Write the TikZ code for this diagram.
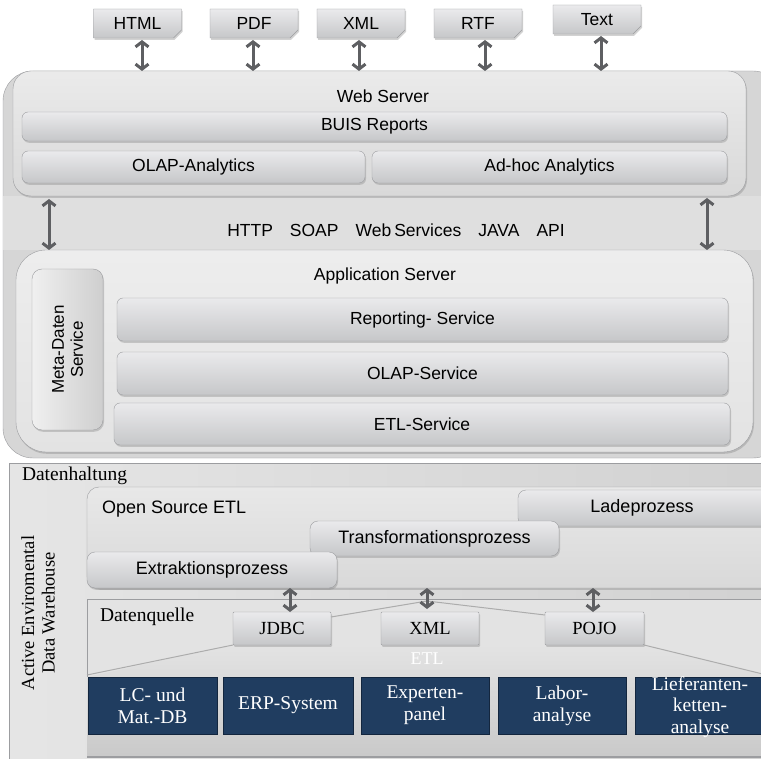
\documentclass[tikz,border=0pt]{standalone}
\usepackage{fontspec}
\setmainfont{Liberation Serif}
\setsansfont{Liberation Sans}
\usetikzlibrary{arrows.meta,shapes.misc,shadows}
\definecolor{edge}{HTML}{9C9DA0}
\definecolor{gtop}{HTML}{EAEAEC}
\definecolor{gbot}{HTML}{C6C7C9}
\definecolor{arrowc}{HTML}{5E5F62}
\definecolor{navy}{HTML}{203D60}
\definecolor{navyedge}{HTML}{13263E}
\tikzset{
  sans/.style={font=\sffamily\fontsize{17.5}{20}\selectfont},
  serif/.style={font=\rmfamily\fontsize{18.5}{20}\selectfont},
  shad/.style={drop shadow={shadow xshift=1pt,shadow yshift=-1.8pt,opacity=0.35}},
  greybox/.style={draw=edge, rounded corners=6pt, top color=gtop, bottom color=gbot,
    inner sep=0pt, outer sep=0pt, shad, text=black},
  fmtbox/.style={chamfered rectangle, chamfered rectangle corners=south east,
    chamfered rectangle xsep=4pt, chamfered rectangle ysep=4pt,
    draw=edge, top color=gtop, bottom color=gbot, inner sep=0pt, outer sep=0pt,
    minimum width=88pt, minimum height=29pt, shad, sans},
  panel/.style={draw=edge, inner sep=0pt, outer sep=0pt},
  navybox/.style={draw=navyedge, fill=navy, text=white, inner sep=0pt, outer sep=0pt,
    minimum height=57pt, align=center, font=\rmfamily\fontsize{19.5}{22}\selectfont},
  dbl/.style={draw=arrowc, line width=3pt,
    {Straight Barb[length=5pt,width=13pt]}-{Straight Barb[length=5pt,width=13pt]}},
  lbl/.style={inner sep=0pt, outer sep=0pt}
}
\begin{document}
\begin{tikzpicture}[x=1pt,y=-1pt]
\useasboundingbox (0,0) rectangle (761,759);
\clip (0,0) rectangle (761,759);
\fill[white] (0,0) rectangle (761,759);

% ---------- upper part ----------
\node[panel, rounded corners=30pt, fill=gray!32, minimum width=780pt, minimum height=387pt,
  anchor=north west] (outer) at (3,71) {};
\fill[gray!25] (3,196) rectangle (761,250);
\node[greybox, rounded corners=18pt, top color=gray!16, bottom color=gray!30,
  minimum width=733pt, minimum height=125pt, anchor=north west] (ws) at (13,71) {};
\node[lbl, sans] (wst) at (383,96) {Web Server};
\node[greybox, minimum width=705pt, minimum height=29pt] (buis) at (374.5,126.5) {\sffamily\fontsize{17.5}{20}\selectfont BUIS Reports};
\node[greybox, minimum width=343pt, minimum height=32pt] (olapa) at (193.5,167) {\sffamily\fontsize{17.5}{20}\selectfont OLAP-Analytics};
\node[greybox, minimum width=355pt, minimum height=32pt] (adhoc) at (549.5,167) {\sffamily\fontsize{17.5}{20}\selectfont Ad-hoc Analytics};

% format boxes
\node[fmtbox] (html) at (137.5,23.5) {HTML};
\node[fmtbox] (pdf) at (254,23.5) {PDF};
\node[fmtbox] (xml) at (361,23.5) {XML};
\node[fmtbox] (rtf) at (478,23.5) {RTF};
\node[fmtbox] (txt) at (597,19.5) {Text};
\draw[dbl] ([xshift=4.5pt,yshift=-2pt]html.south) -- ([xshift=4.5pt]html.south |- ws.north);
\draw[dbl] ([xshift=-1pt,yshift=-2pt]pdf.south) -- ([xshift=-1pt]pdf.south |- ws.north);
\draw[dbl] ([xshift=-2pt,yshift=-2pt]xml.south) -- ([xshift=-2pt]xml.south |- ws.north);
\draw[dbl] ([xshift=7pt,yshift=-2pt]rtf.south) -- ([xshift=7pt]rtf.south |- ws.north);
\draw[dbl] ([xshift=4pt,yshift=-2pt]txt.south) -- ([xshift=4pt]txt.south |- ws.north);

% protocols
\node[lbl, sans] (proto) at (396,230) {HTTP\hspace{17pt}SOAP\hspace{17pt}Web\hspace{3pt}Services\hspace{17pt}JAVA\hspace{17pt}API};

% application server
\node[greybox, rounded corners=30pt, top color=gray!14, bottom color=gray!22,
  minimum width=737pt, minimum height=202pt, anchor=north west] (app) at (16,250) {};
\draw[dbl] (49,199) -- (49,0 |- app.north);
\draw[dbl] (707,198) -- (707,0 |- app.north);
\node[lbl, sans] (appt) at (385,276) {Application Server};
\node[greybox, rounded corners=10pt, shading angle=90,
  left color=gray!12, right color=gray!38,
  minimum width=71pt, minimum height=161pt] (meta) at (67.5,349.5) {};
\node[lbl, rotate=90, align=center, font=\sffamily\fontsize{17}{19}\selectfont] (metat) at (meta.center) {Meta-Daten\\Service};
\node[greybox, minimum width=611pt, minimum height=43pt] (rep) at (422.5,319.5) {\sffamily\fontsize{17.5}{20}\selectfont Reporting- Service};
\node[greybox, minimum width=611pt, minimum height=43pt] (olaps) at (422.5,373.5) {\sffamily\fontsize{17.5}{20}\selectfont OLAP-Service};
\node[greybox, minimum width=616pt, minimum height=42pt] (etls) at (422,424) {\sffamily\fontsize{17.5}{20}\selectfont ETL-Service};

% ---------- lower part ----------
\node[panel, left color=gray!20, right color=gray!36, minimum width=770pt, minimum height=310pt,
  anchor=north west] (dh) at (9,463) {};
\node[lbl, anchor=west, font=\rmfamily\fontsize{19.5}{20}\selectfont] (dht) at (22,476) {Datenhaltung};
\node[lbl, rotate=90, align=center, font=\rmfamily\fontsize{18.5}{20.5}\selectfont] (adw) at (38,613) {Active Enviromental\\Data Warehouse};

\node[greybox, rounded corners=12pt, top color=gray!18, bottom color=gray!30,
  minimum width=700pt, minimum height=101pt, anchor=north west] (ose) at (87,487) {};
\node[lbl, anchor=west, font=\sffamily\fontsize{18}{20}\selectfont] (oset) at (102,509) {Open Source ETL};
\node[greybox, rounded corners=8pt, minimum width=260pt, minimum height=36pt, anchor=north west,
  font=\sffamily\fontsize{18}{20}\selectfont] (lade) at (518,490) {\hspace{-12pt}Ladeprozess};
\node[greybox, rounded corners=8pt, minimum width=249pt, minimum height=35pt,
  font=\sffamily\fontsize{18}{20}\selectfont] (trans) at (434.5,538.5) {Transformationsprozess};
\node[greybox, rounded corners=8pt, minimum width=250pt, minimum height=36pt,
  font=\sffamily\fontsize{18}{20}\selectfont] (extr) at (212,570) {Extraktionsprozess};

% Datenquelle
\node[panel, fill=gray!22, minimum width=700pt, minimum height=158pt, anchor=north west] (dq) at (87,599) {};
\node[lbl, anchor=west, font=\rmfamily\fontsize{19.5}{20}\selectfont] (dqt) at (100,617) {Datenquelle};
\shade[top color=gray!22, bottom color=gray!42] (233,645) -- (644,645) -- (775,677) -- (775,757) -- (87,757) -- (87,677) -- cycle;
\draw[edge, line width=1.2pt] (87,757) -- (775,757);
\node[lbl, text=white, font=\rmfamily\fontsize{18}{19}\selectfont] (etlt) at (427,659) {ETL};

\coordinate (apex) at (427,601);
\node[greybox, rounded corners=1pt, minimum width=98pt, minimum height=33pt, serif] (jdbc) at (282,628.5) {JDBC};
\node[greybox, rounded corners=1pt, minimum width=98pt, minimum height=33pt, serif] (xmlq) at (430,628.5) {XML};
\node[greybox, rounded corners=1pt, minimum width=99pt, minimum height=33pt, serif] (pojo) at (594.5,628.5) {POJO};
\draw[gray!65, line width=1pt] ([yshift=-5pt]jdbc.north east) -- (apex) -- ([yshift=-3pt]pojo.north west);
\draw[gray!65, line width=1pt] (jdbc.south west) -- (87,675);
\draw[gray!65, line width=1pt] (pojo.south east) -- (775,677);

\coordinate (apexlow) at (427,609);
\draw[dbl] (290,0 |- ose.south) -- (290,0 |- jdbc.north);
\draw[dbl] (427,0 |- ose.south) -- (apexlow);
\draw[dbl] (593,0 |- ose.south) -- (593,0 |- pojo.north);

% sources
\node[navybox, minimum width=129pt] (lc) at (152.5,705.5) {LC- und\\Mat.-DB};
\node[navybox, minimum width=130pt] (erp) at (288,705.5) {ERP-System};
\node[navybox, minimum width=128pt] (exp) at (425,705.5) {Experten-\\panel};
\node[navybox, minimum width=128pt] (lab) at (562,705.5) {Labor-\\analyse};
\node[navybox, minimum width=130pt] (lief) at (700,705.5) {};
\node[lbl, text=white, align=center, font=\rmfamily\fontsize{19.5}{21.5}\selectfont] (lieft) at (700,707) {Lieferanten-\\ketten-\\analyse};
\end{tikzpicture}
\end{document}
